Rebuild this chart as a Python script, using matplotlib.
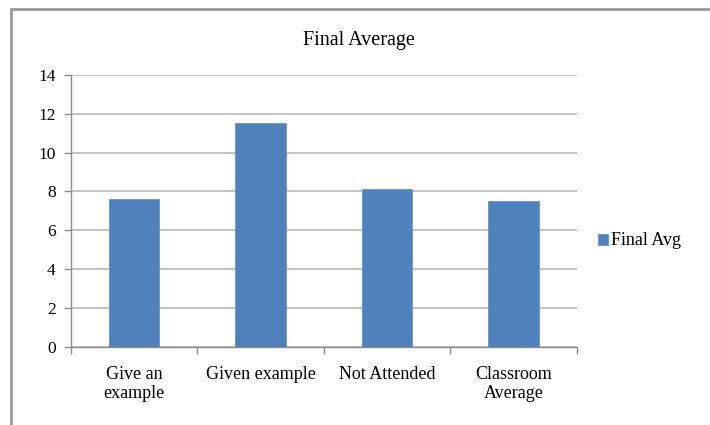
import numpy as np
import matplotlib.pyplot as plt
from matplotlib.patches import Rectangle

categories = ['Give an\nexample', 'Given example', 'Not Attended', 'Classroom\nAverage']
final_avg = [7.6, 11.55, 8.13, 7.49]
y_ticks = [0, 2, 4, 6, 8, 10, 12, 14]

plt.rcParams['font.family'] = ['Liberation Serif', 'DejaVu Serif']

fig = plt.figure(figsize=(7.1, 4.25), dpi=100)
ax = fig.add_axes([71 / 710, 1 - 346.7 / 425, (576.5 - 71) / 710, (346.7 - 75) / 425])

x = np.arange(len(categories))
ax.bar(x, final_avg, width=0.4, color='#4F81BD', edgecolor='#6A95CC',
       linewidth=0.6, label='Final Avg', zorder=3)

ax.set_xlim(-0.5, len(categories) - 0.5)
ax.set_ylim(0, 14)
ax.set_yticks(y_ticks)
ax.set_yticklabels([str(v) for v in y_ticks], fontsize=12.5)
ax.yaxis.grid(True, color='#BFBFBF', linewidth=1.3, zorder=0)

# category tick marks sit between the bars, labels at the bar centres
ax.set_xticks(np.arange(len(categories) + 1) - 0.5)
ax.set_xticklabels([])
ax.set_xticks(x, minor=True)
ax.set_xticklabels(categories, minor=True, fontsize=13, linespacing=1.15)
ax.tick_params(axis='x', which='minor', length=0, pad=14)
ax.tick_params(axis='x', which='major', length=5, color='#8C8C8C', width=1)
ax.tick_params(axis='y', length=5, color='#8C8C8C', width=1, pad=6)

for side in ['top', 'right']:
    ax.spines[side].set_visible(False)
for side in ['left', 'bottom']:
    ax.spines[side].set_color('#8C8C8C')
    ax.spines[side].set_linewidth(1)

fig.text(359 / 710, 1 - 40 / 425, 'Final Average', ha='center', va='center', fontsize=14.5)

fig.legend(loc='center left', bbox_to_anchor=(598 / 710, 1 - 241 / 425), frameon=False,
           fontsize=13, handlelength=0.55, handleheight=0.55, handletextpad=0.15,
           borderaxespad=0, borderpad=0)

# chart-area border (only top and left visible in the crop)
fig.patches.append(Rectangle((11 / 710, -0.1), 1.2, (1 - 9 / 425) + 0.1, transform=fig.transFigure,
                             fill=False, edgecolor='#9A9A9A', linewidth=2))

fig.savefig('out.png', dpi=100)
